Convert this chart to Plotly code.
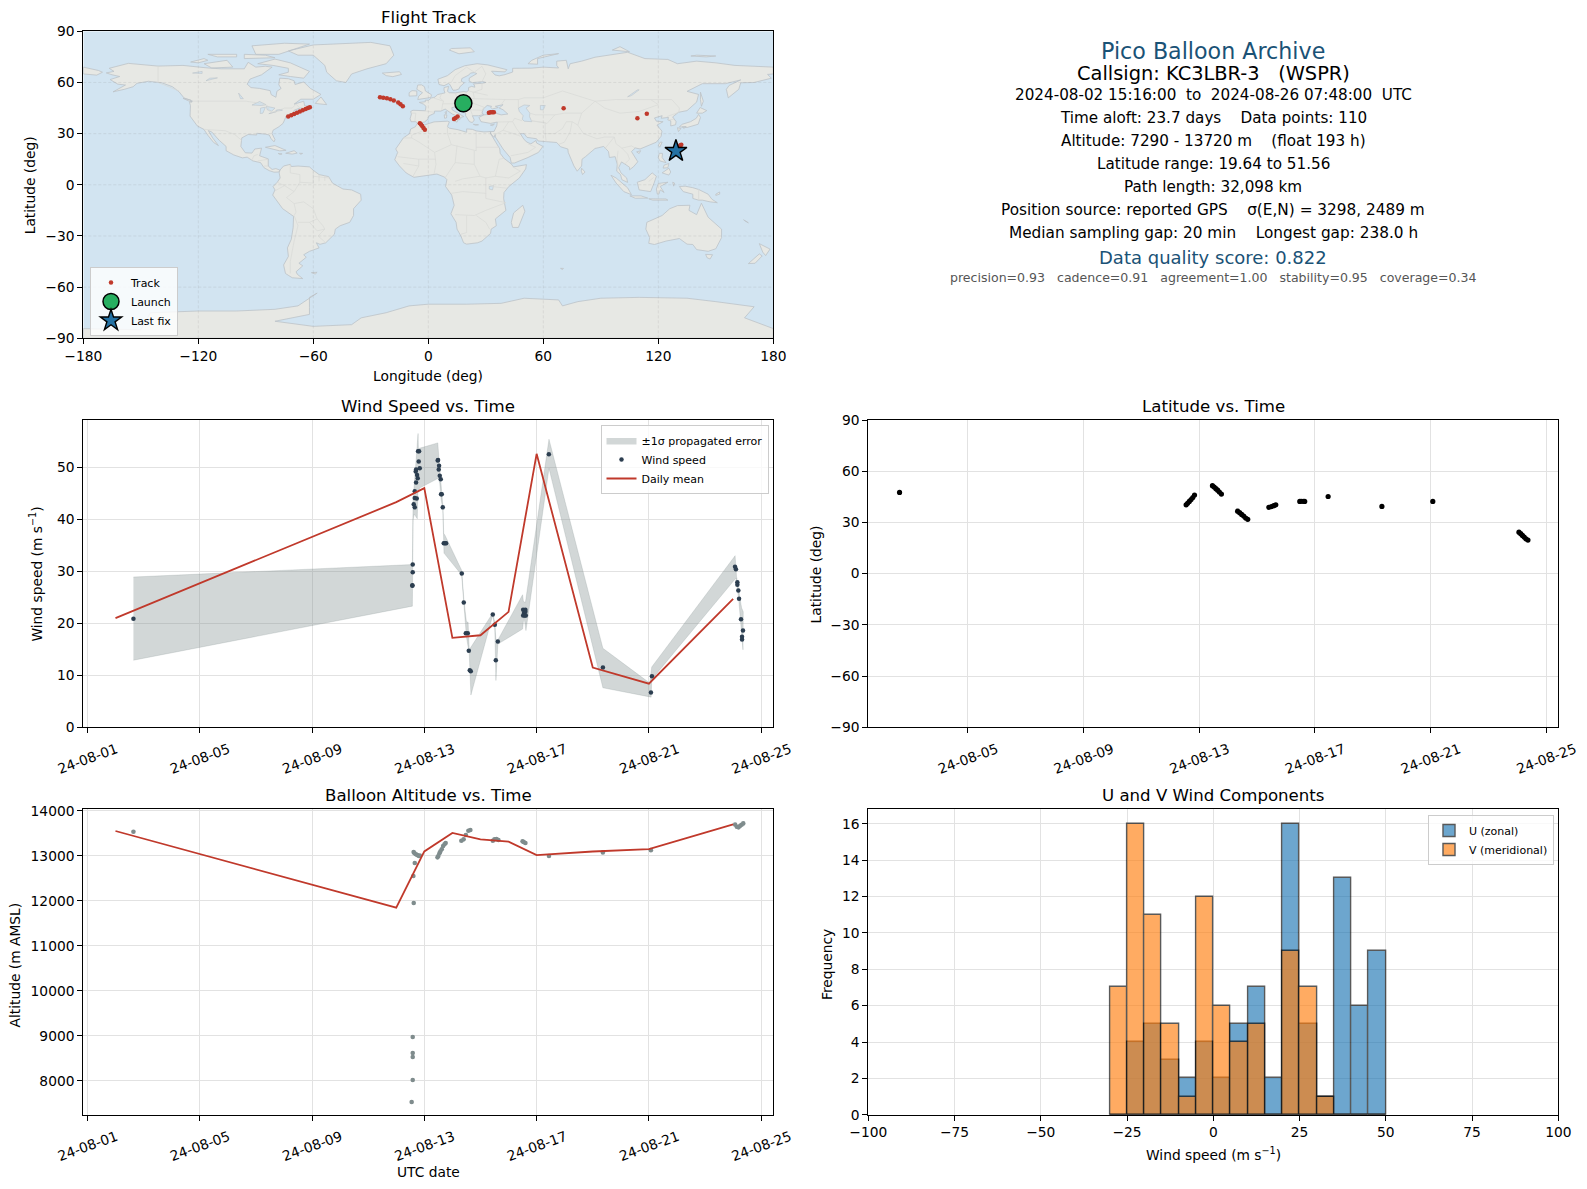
import numpy as np
import pandas as pd
import plotly.graph_objects as go

W, H = 1587, 1189
RED = "#c0392b"
NAVY = "#2c3e50"
GREY = "#7f8c8d"
TITLE_BLUE = "#1a5276"
GRID = "#e2e2e2"
FONT = "DejaVu Sans"

# --- map outlines (lon, lat), read by eye ---
EURASIA = [(-9,37),(-9.5,38.7),(-8.8,41.5),(-9.2,43),(-8,43.7),(-3.5,43.5),(-1.5,43.4),(-1.2,46),(-2.5,47.3),(-4.7,48.3),(-1.5,48.7),(-1.6,49.6),(0.2,49.6),(1.6,50.9),(3.5,51.4),(4.8,52.9),(7,53.5),(8.7,53.9),(8.2,55.5),(8.2,57),(10.6,57.7),(10.3,56.2),(10,54.8),(11,54),(14.2,53.9),(18.5,54.7),(19.8,54.4),(21,55.3),(21,57),(22.6,57.7),(24.3,57.2),(24,58.5),(23.5,59.2),(28,59.5),(30,60),(28.5,60.5),(25,60.2),(22.9,59.9),(21.3,60.8),(21.4,62.6),(25.3,65.2),(24,65.8),(22,65.5),(21.2,64.4),(17.5,62.3),(17.2,60.7),(18.8,59.8),(16.5,57.5),(16,56.2),(14.3,55.5),(12.9,55.4),(11.2,58.9),(10.5,59.4),(8.2,58.1),(5.6,58.8),(5,61.9),(10,64),(14,67.5),(19,69.8),(25.5,71),(31,70.3),(41,67.5),(40,66.2),(35,66.6),(33,66.6),(34.8,64.4),(37,63.9),(40,64.6),(44,66.1),(44,68.3),(54,68.4),(60,69),(68,68.5),(67,70),(67,72.5),(72,73),(73,68),(74,71),(80,72.5),(87,74.8),(104,77.7),(113,74),(125,73.5),(130,71),(140,72.5),(150,71.5),(160,70),(170,69.5),(180,69),(180,65),(177,64.7),(179,62.5),(170,60),(163,59.8),(162,56),(156.5,51),(155.5,56),(157,58.3),(163,61.5),(155,59.3),(143,59.3),(135,54.8),(141,53),(140,48.5),(135,43.5),(130.5,42.5),(127.5,39.8),(129.3,37),(129,35.2),(126.5,34.5),(126.5,37.5),(125,38),(125.3,39.5),(121.5,39),(122,40.5),(118,39.2),(119,37.3),(122.5,37),(119.3,35),(121.9,31.5),(121.5,28.5),(119,25),(114,22.4),(110.5,21),(108,21.6),(106,19.5),(109.3,13.5),(107,10.5),(105,8.8),(105,10.3),(102.5,12.2),(100.8,13.4),(99.3,10),(100.5,7),(103.5,4),(104,1.4),(101,3),(100.3,6),(98.3,8),(98.6,12),(97.5,16.5),(94.5,16),(94,19.5),(91.5,22.5),(89,21.8),(87,21.3),(82,16.5),(80.2,15),(80,11),(77.7,8),(76,11),(73,19),(72.8,21),(69,22.3),(67,24.8),(61.5,25.2),(57.3,25.7),(56.5,27),(51.5,27.8),(50,30),(48,30),(50,26.5),(51.5,25),(53.5,24),(56.2,26),(56.5,24.5),(59.8,22.5),(57.5,19),(52,16),(45,12.8),(43.3,12.7),(42.7,16),(39,21),(35,28),(34.9,29.5),(34.3,27.8),(32.6,29.9),(32.4,31.2),(34.3,31.3),(35.7,34.5),(36,36.8),(32.5,36),(30.5,36.3),(27.5,37),(26.4,39.5),(29,41),(31.5,41.2),(35,42),(38,41),(41.5,41.5),(39,44),(37,45),(39,47),(35,46),(36.5,45.3),(33.5,44.5),(32.5,45.4),(33,46),(30.7,46.5),(28.7,44.5),(28,42),(29,41.2),(26.2,40.5),(23,40.5),(24,38),(23,36.5),(21.5,37),(19.5,40.5),(19.5,42),(15,44.3),(13.8,45.5),(12.3,45.3),(12.4,44),(16,41.8),(18.5,40),(16.8,39.5),(17,38.9),(16,38),(15.8,40),(12.5,41.5),(10.5,43),(8.8,44.4),(6.5,43.2),(3.2,43.2),(3.2,41.9),(0.5,40.5),(-0.3,39),(0,38.7),(-2,36.8),(-5.5,36),(-6.5,37),(-9,37)]
NORTH_AMERICA = [(-168,65.6),(-164,66.5),(-166.5,68.3),(-156.5,71.2),(-141,69.6),(-128,70),(-115,68.5),(-108,68),(-96,68),(-94,71.8),(-90,69),(-85,69.5),(-81.5,69),(-87,64.5),(-93,62),(-94.5,59),(-92.5,57),(-88,56.5),(-82.5,55.2),(-82,52.9),(-79.5,51.3),(-79,54.8),(-76.8,56.5),(-78,58.7),(-77.5,62.5),(-73,62.2),(-70,61),(-69.5,58.8),(-65,60.3),(-61.5,56.5),(-56,53),(-60,50.2),(-66.5,50.2),(-70,47.3),(-65,49),(-64.5,46.3),(-61,46),(-64,44.5),(-66,43.8),(-65.5,45),(-67,45),(-70,43.7),(-70.5,41.8),(-74,40.6),(-75.5,37.5),(-75.8,36),(-78,34),(-81,32),(-81.5,30),(-80,26.5),(-80.5,25.2),(-82,27),(-83,29.2),(-85,29.7),(-89.5,30.2),(-89.5,29.2),(-94,29.5),(-97.3,27.5),(-97.8,22.5),(-95.5,18.8),(-92,18.6),(-90.5,21),(-87,21.5),(-88,17),(-83.5,15.2),(-83.5,11),(-81.5,9),(-79.5,9.5),(-77.4,8.6),(-78,7.5),(-80.5,7.4),(-83,8.3),(-85.7,10),(-87.5,13),(-91.5,14),(-94.5,16.2),(-97,15.8),(-101.5,17.5),(-105.5,20),(-105.5,22.5),(-109,26),(-113,31),(-114.8,31.8),(-112.5,27.5),(-109.5,23),(-112,24.8),(-115,29),(-117.1,32.5),(-120.5,34.5),(-122.5,37.5),(-124.3,40.3),(-124.1,46.5),(-124.6,48.4),(-123,49),(-127.5,51),(-130,54.5),(-133.5,57.5),(-139,59.8),(-146,60.7),(-152,59.5),(-154,57.5),(-158.5,56),(-164.5,54.5),(-158,58.5),(-162,59),(-166,61.7),(-161,63.5),(-165,64.5),(-168,65.6)]
SOUTH_AMERICA = [(-77.4,8.6),(-75.5,11),(-72,12),(-71.5,10.7),(-68,11),(-62,10.5),(-60,8.5),(-57,6),(-52,4.8),(-50,1),(-44.5,-2.5),(-40,-3),(-35.3,-5.5),(-35,-9),(-39,-14),(-39,-18),(-41,-22),(-46,-24),(-48.5,-26),(-49,-29),(-53.5,-34),(-56.5,-34.9),(-58.4,-34),(-57,-37),(-62,-39),(-65,-41),(-63.7,-42.5),(-67.5,-46),(-65.5,-47.5),(-69,-51),(-68.3,-52.5),(-65.5,-55),(-71,-54.5),(-74.5,-52),(-75.5,-47),(-73,-42),(-73.5,-37),(-71.5,-32),(-70.5,-25),(-70.3,-18.5),(-76,-14),(-81.2,-6),(-80,-3),(-81,-1),(-78.8,1.5),(-77.3,4),(-77.8,7),(-77.4,8.6)]
AFRICA = [(-5.8,35.8),(-2,35.1),(3,36.9),(10,37.3),(11,36.9),(10,34.2),(11,33.2),(15.5,32.3),(20,30.8),(20,32.8),(23,32.5),(25,31.6),(29,31),(32.4,31.2),(32.6,29.9),(34,27),(35.7,24),(37.3,21),(37.5,18.5),(39.5,15.5),(43.2,12.3),(44.5,10.5),(51.2,11.8),(50.8,9.3),(47.5,4),(42,-1),(39.5,-4.5),(39.3,-8),(40.5,-15),(35,-20),(35.5,-24),(32.8,-26),(32.5,-28.5),(28,-33),(25.7,-34),(20,-34.8),(18.4,-34),(17,-30),(15,-26),(14.5,-22),(11.8,-17),(13.5,-12),(12.2,-6),(9,-1),(9.7,3),(8.5,4.5),(4.5,6.3),(1,5.8),(-4,5.2),(-7.5,4.4),(-11.5,6.9),(-15,11),(-17.5,14.7),(-16,19),(-17,21),(-13,27.5),(-9.8,30),(-9.2,32.7),(-6.8,34),(-5.8,35.8)]
ANTARCTICA = [(-180,-84.3),(-150,-85),(-145,-75),(-120,-74),(-100,-74),(-80,-73),(-68,-71),(-58,-63.5),(-62,-66),(-62,-72),(-62,-76),(-80,-80),(-60,-83),(-40,-82),(-35,-78),(-22,-75),(-10,-71),(0,-70),(20,-70),(38,-69.5),(50,-66.5),(68,-67.5),(70,-71),(78,-68.5),(90,-66.5),(110,-66),(135,-66.5),(150,-68.5),(170,-71.5),(165,-78),(180,-84.3),(180,-90),(-180,-90),(-180,-84.3)]
AUSTRALIA = [(114,-22),(122,-18),(126,-14),(130,-12.2),(136.5,-12),(136,-15),(140,-17.5),(142.5,-10.8),(146,-19),(153,-26),(153,-31),(150,-37.5),(146,-39),(140,-38),(138,-35),(135,-34.8),(131,-31.5),(124,-33),(118,-35),(115,-34.3),(115.5,-31),(113.5,-26),(114,-22)]
GREENLAND = [(-73,78.5),(-60,82),(-30,83.5),(-20,81.5),(-18,76),(-22,71),(-32,68),(-40,65),(-43,60),(-48,61),(-53,66),(-54,70),(-60,76),(-68,76),(-73,78.5)]
ISLANDS = [
    [(-80,73.7),(-72,71.5),(-62,66.5),(-65,62.5),(-72,63.5),(-78,64.5),(-73,66),(-73,68.3),(-81,70),(-89,71),(-80,73.7)],
    [(-117,71),(-105,73),(-102,69),(-113,68.5),(-117,71)],
    [(-90,76.5),(-78,76.5),(-62,82.5),(-75,83),(-92,81.5),(-90,76.5)],
    [(-124,72),(-117,74),(-115,73),(-120,71.5),(-124,72)],
    [(-96,74),(-80,74.5),(-85,76),(-96,76.5),(-96,74)],
    [(-110,75),(-100,75),(-100,76.5),(-115,76.5),(-110,75)],
    [(-59,47.7),(-56,51.5),(-53,47),(-59,47.7)],
    [(-128,50.7),(-124,49.8),(-123.5,48.4),(-128,50.7)],
    [(-85,22),(-80,23),(-74.2,20.2),(-77.5,19.9),(-85,22)],
    [(-74.4,18.5),(-70,20),(-68.4,18.6),(-71,18),(-74.4,18.5)],
    [(-78.3,18.4),(-76.3,18.1),(-77.5,17.8),(-78.3,18.4)],
    [(-67.2,18.5),(-65.6,18.4),(-66.5,17.9),(-67.2,18.5)],
    [(-61,-51.5),(-58,-51.3),(-59,-52.3),(-61,-51.5)],
    [(49.3,-12),(50.4,-15.5),(47,-25),(44,-25),(43.3,-22),(44.5,-16.5),(49.3,-12)],
    [(-5.5,50),(1.3,51.2),(1.7,52.8),(-1.5,55),(-2,57.5),(-3.5,58.6),(-5.5,58.5),(-6,56),(-3,54),(-5,52),(-5.5,50)],
    [(-10,52),(-6,52.2),(-6,55),(-8.5,55.2),(-10,54),(-10,52)],
    [(-24,65.5),(-22,64),(-18.5,63.4),(-14,64.7),(-15,66.3),(-20,66),(-24,65.5)],
    [(12.5,38),(15.6,38.2),(15,36.7),(12.5,38)],
    [(8.3,41),(9.7,41),(9.5,39.2),(8.5,39),(8.3,41)],
    [(8.7,42.5),(9.5,43),(9.3,41.5),(8.7,42.5)],
    [(23.5,35.5),(26.2,35.2),(24.7,34.9),(23.5,35.5)],
    [(32.4,35),(34.5,35.6),(33.6,34.7),(32.4,35)],
    [(11,79),(16,76.8),(24,78),(22,80.3),(12,79.9),(11,79)],
    [(52,71),(57,70.7),(57,74),(68,76.9),(60,76),(54,73),(52,71)],
    [(96,79),(105,78),(100,81),(96,79)],
    [(137,75.5),(145,75),(150,75.5),(140,76),(137,75.5)],
    [(-180,69),(-172,67),(-170,66),(-173,64.3),(-180,65),(-180,69)],
    [(142,54.3),(143.5,49),(142.5,46),(142,50),(142,54.3)],
    [(131,34),(135,33.6),(140.8,35.5),(142,39.5),(141,41.3),(139.8,39),(136.8,37),(132.5,35.5),(131,34)],
    [(140,42),(141.8,45.3),(145.3,43.5),(143,42),(140,42)],
    [(130,33.5),(131.8,33),(130.5,31.2),(130,33.5)],
    [(132.5,34),(134.5,34.2),(133.5,33),(132.5,34)],
    [(121,25),(122,25),(120.8,22),(120,23.2),(121,25)],
    [(108.7,19.3),(110.8,20),(110,18.3),(108.7,19.3)],
    [(120.5,18.5),(122.2,18.4),(122,16),(124,13),(120.8,14),(120,16),(120.5,18.5)],
    [(122,7),(125.5,9.7),(126.5,7.5),(125.5,5.7),(122,7)],
    [(123,11.5),(125.5,12.5),(125,10),(122.5,9.8),(123,11.5)],
    [(109,1.5),(113,3),(116.8,7),(119,5),(117.8,1),(116,-4),(110,-3),(109,1.5)],
    [(95.3,5.6),(98,4),(104,-1.8),(106,-5.8),(102,-4),(98,1),(95.3,5.6)],
    [(105.2,-6.5),(111,-6.5),(114.5,-7.8),(108,-7.9),(105.2,-6.5)],
    [(115,-8.2),(124,-8.3),(125,-9),(117,-9),(115,-8.2)],
    [(119.5,-5.5),(119,-2.5),(120,0.8),(125,1.5),(121,-1),(123,-4.5),(121,-3),(120.3,-5.5),(119.5,-5.5)],
    [(127.5,1.5),(128.5,1),(128,-0.8),(127.5,1.5)],
    [(131,-1),(134,-0.8),(138,-1.7),(141,-2.7),(146,-5.5),(148,-8.5),(150.8,-10.5),(147,-10),(143,-9),(141,-9),(138,-8),(138,-5.5),(133,-4),(131,-1)],
    [(150,-5.5),(152,-4.2),(152,-5.5),(150,-6.2),(150,-5.5)],
    [(80,9.7),(81.8,7.5),(80.5,6),(79.8,8),(80,9.7)],
    [(144.7,-40.8),(148.3,-41),(147,-43.5),(145.5,-42.8),(144.7,-40.8)],
    [(172.7,-34.5),(178.3,-37.7),(176,-41.5),(174.5,-39.5),(172.7,-34.5)],
    [(172.7,-40.5),(174.2,-41.7),(170.5,-46),(167,-46.2),(172.7,-40.5)],
    [(69,-49),(70.5,-49),(70,-49.7),(69,-49)],
    [(165,-21),(167,-22.3),(164.5,-20.5),(165,-21)],
]
LAKES = [
    [(47,45),(50,46.8),(53,46.5),(51,45),(53,42),(52.8,40),(54,37),(50,37.3),(49,38.5),(49.5,40.5),(47.5,43),(47,45)],
    [(-92,46.8),(-88,48.8),(-84.7,47),(-87,46.5),(-92,46.8)],
    [(-87.7,41.8),(-86.3,42),(-85,45.5),(-87.5,45),(-87.7,41.8)],
    [(-84.5,46),(-80,45),(-81.7,43.2),(-84,44),(-84.5,46)],
    [(-83.2,41.7),(-79,42.8),(-79,43),(-83,42.2),(-83.2,41.7)],
    [(-79.7,43.3),(-76.2,43.6),(-76.3,44.2),(-79,43.9),(-79.7,43.3)],
    [(-123,65.5),(-118,66.5),(-118,65.3),(-123,65.5)],
    [(-116,61),(-110,62.7),(-114,62.5),(-116,61)],
    [(-98,50.5),(-96.5,50.5),(-99,53.8),(-98,50.5)],
    [(104,51.6),(106,52.3),(110,55.7),(109,55.6),(104,51.6)],
    [(58.5,46.5),(61,46.5),(60,44),(58.5,44),(58.5,46.5)],
    [(31.8,-1),(34,-0.5),(33.5,-3),(31.8,-2.5),(31.8,-1)],
]
BORDERS = [
    [(-123,49),(-95,49),(-89,48),(-84,46.5),(-82.5,42.5),(-79,43),(-75,45),(-71,45),(-69,47.3),(-67,45)],
    [(-141,69.6),(-141,60),(-130,55)],
    [(-117,32.5),(-108,31.5),(-106,31.7),(-101,29.5),(-97.3,26)],
    [(-92,14.6),(-91,17),(-89,17.8)],
    [(-89,14),(-83.5,15)], [(-85.7,11),(-83.5,11)],
    [(-51.6,4),(-60,5),(-60,1),(-67,1.5),(-70,-4),(-74,-7.5),(-70,-11),(-65,-10),(-60,-14),(-58,-20),(-55,-24),(-54,-26),(-57.5,-30),(-53.5,-34)],
    [(-70,-18),(-68,-24),(-70,-33),(-72,-45),(-72,-52)],
    [(-72,12),(-72,7),(-67,6),(-67,1.5)],
    [(-78.8,1.5),(-75,-0.5),(-70,-4)], [(-80,-3.5),(-75,-0.5)],
    [(-70,-11),(-69,-16),(-70,-18)], [(-68,-22),(-62,-22),(-58,-20)], [(-62,-22),(-58,-27),(-54,-26)],
    [(-60,8),(-60,5)], [(-57,6),(-57,2)], [(-54,5.5),(-54,2.3)],
    [(-13,27.5),(-8.7,27.5),(-8.7,29),(-1,32.5),(-2,35)],
    [(-8.7,27.5),(-4.8,25),(3.3,19),(12,23.5),(10,30),(10,34)],
    [(12,23.5),(25,20),(25,31.6)], [(25,22),(37,22)],
    [(24,20),(24,12),(27,5),(30,4),(35,5),(42,4),(48,8),(44,10.5)],
    [(35,5),(37,15),(39.5,15.5)], [(3.3,19),(4,12),(3,6.3)],
    [(-16,16.5),(-5,15),(-5,11),(-8,5)], [(-5,15),(4,15)], [(-13,12.5),(-5,11)],
    [(9,4.5),(14,13),(24,12)], [(14,13),(15,23)], [(12,-5),(18,-4),(30,-5),(30,4)],
    [(14,-17.5),(24,-18),(30,-15),(40.5,-10.5)], [(30,-5),(30,-8),(40.5,-10.5)],
    [(20,-18),(20,-28),(17,-29)], [(25,-18),(30,-22),(32,-26)], [(33,-1),(41,-2)], [(14,2),(18,3.5),(27,5)],
    [(-2,43.4),(3,42.5)], [(-8.8,42),(-6.5,42),(-7,37.5)], [(2.5,51),(8,49),(7.5,47.5),(7,44)],
    [(7.5,47.5),(13,47.5),(17,48),(23,48),(29,45.5),(28,43)],
    [(7,53.5),(6,51),(8,49)], [(14,54),(15,51),(24,50.5),(23.5,54)], [(23,54),(28,56),(28,59.5)],
    [(24,50.5),(40,50),(38,47)], [(19,48),(22,44),(23,41)], [(13,47.5),(15,51)], [(21,55),(31,52.5)],
    [(13.8,45.5),(19,46),(22,44),(28,43.7)], [(12,60),(14,64),(20,69)], [(28,69.5),(24,66),(20,69)], [(28,60.5),(30,65),(28,69.5)],
    [(40,50),(47,50),(47,45)], [(47,50),(50,51),(60,51),(70,55),(87,49),(98,50),(108,50),(116,50),(127,50),(131,45),(130.7,42.5)],
    [(87,49),(92,45),(100,42),(110,43),(120,47),(116,50)],
    [(53,42),(56,41),(66,41),(71,42),(80,42),(87,49)], [(66,41),(62,36),(54,37.5)],
    [(49,37.5),(45,39),(44,37),(46,33),(48,30)], [(54,37.5),(61,36.5),(61,30),(61.5,25.2)],
    [(61,30),(66,30),(70,33),(72,37),(75,37)],
    [(68,23.7),(71,25),(74,31),(75,37),(78,35),(81,30),(88,27),(92,28),(97,28),(94,24),(92,21)],
    [(97,28),(98,24),(101,21.5),(106,22.8),(108,21.6)], [(101,21.5),(104,18),(105,15),(102.5,12.2)], [(99,20),(98.5,15),(99,11)], [(80,42),(78,35)],
    [(36,36.8),(42,37),(44,37)], [(35,29.5),(39,32),(47,29),(48,28.5)], [(39,32),(42,37)], [(52,24),(56,22),(52,19),(43,17)],
    [(125,38),(128.3,38.5)], [(124.5,40),(130.7,42.5)], [(115,2),(117.5,4.2)], [(141,-2.7),(141,-9)],
]

# --- flight track ---
TRACK_LON = [18.3,-73.1,-71.5,-70,-68.5,-67,-65.5,-64,-62.8,-61.8,-25.2,-23.5,-21.6,-19.8,-18,-15.7,-14.5,-13.3,-4.4,-3.8,-3.2,-2.5,-1.8,13.4,14.2,15.3,31.6,32.5,33.4,34.2,70.6,109.1,114,132,131.5,131,130.5,130,129.6,129.2]
TRACK_LAT = [47.8,40,40.8,41.5,42.2,43,43.7,44.4,45,45.4,51.3,51,50.7,50.1,49.5,48.2,47.2,46,36.1,35.3,34.5,33.3,32.3,38.6,39.2,40,42.3,42.5,42.5,42.5,44.9,39,41.7,23.5,23.2,22.5,21.8,21,20.3,19.8]
LAUNCH = (18.3, 47.8)
LAST_FIX = (129.2, 19.8)

# --- wind speed, day of August 2024 / m/s ---
WIND_DAY = [2.64,12.575,12.575,12.587,12.587,12.623,12.659,12.659,12.73,12.659,12.706,12.765,12.742,12.694,12.706,12.837,12.801,12.777,12.813,13.478,13.49,13.526,13.514,13.55,13.585,13.597,13.621,13.657,13.692,13.74,13.776,14.334,14.405,14.477,14.548,14.584,14.619,14.655,15.439,15.511,15.546,15.618,16.52,16.55,16.58,16.52,16.6,16.615,16.6,17.436,19.361,21.072,21.108,24.067,24.1,24.15,24.15,24.185,24.21,24.28,24.35,24.316,24.316]
WIND_SPEED = [20.9,27.3,27.2,29.8,31.3,42.9,42.3,44.1,44,45.4,47.1,47.9,48.5,49.2,49.6,49.8,51.1,53.1,53.1,51.3,51.4,50.3,49.6,48.4,47.7,44.8,44.8,42.3,35.4,35.4,35.4,29.6,24,18.1,18.1,14.7,10.96,10.8,21.7,19.7,12.9,16.5,22.6,22,21.5,21.5,22.6,21.5,22.2,52.5,11.5,6.7,9.8,30.9,30.4,27.9,27.4,26.3,24.7,20.8,18.6,17.4,16.9]
BAND_UP_DAY = [2.64,12.575,12.6,12.66,12.7,12.777,12.79,13.48,13.53,13.6,13.66,13.69,13.74,14.33,14.41,14.5,14.56,14.6,15.44,15.51,15.55,15.62,16.5,16.53,16.6,17.44,19.36,21.03,21.1,24.07,24.12,24.3,24.36]
BAND_UP = [28.9,31.3,43.7,47.5,50,56.5,53.6,54.7,51,47.2,42.7,37.3,36.9,30.2,24.5,20.3,20.2,14.9,22,20.1,16.8,16.8,25.5,24.2,24,55.4,15.2,8.5,11.6,33,29,23,22.2]
BAND_LO_DAY = [2.64,12.575,12.6,12.64,12.75,12.77,12.83,13.5,13.55,13.6,13.66,13.7,14.33,14.41,14.5,14.6,14.66,15.44,15.51,15.55,15.62,16.5,16.55,16.62,17.44,19.36,21.08,21.1,24.1,24.2,24.35]
BAND_LO = [12.9,23.3,39.9,41,40.1,45,46,47.9,46.9,43.7,42,33.5,29.3,23.8,17.4,14.2,6.2,21.6,19,9,16,18.9,21.3,18.6,49.8,7.6,5.8,9.2,28.7,24.5,14.9]

# daily means
MEAN_DAY = [2,12,13,14,15,16,17,19,21,24]
MEAN_WIND = [21,43.3,46,17.2,17.7,22.2,52.6,11.5,8.4,24.7]
MEAN_ALT = [13555,11851,13102,13511,13370,13319,13021,13100,13151,13700]

# --- altitude ---
ALT_DAY = [2.64,12.55,12.587,12.587,12.587,12.587,12.623,12.61,12.66,12.62,12.65,12.7,12.75,12.81,12.84,13.47,13.5,13.54,13.57,13.62,13.67,13.72,13.76,14.32,14.4,14.48,14.57,14.64,15.44,15.5,15.57,15.64,16.5,16.54,16.6,17.44,19.36,21.07,24.07,24.13,24.19,24.25,24.3,24.36]
ALT_M = [13540,7533,8022,8533,8622,8978,11955,12555,12844,13090,13060,13040,13020,13000,13010,12970,13000,13060,13100,13150,13220,13260,13290,13340,13370,13466,13562,13577,13340,13370,13377,13355,13325,13310,13288,13000,13080,13130,13697,13650,13636,13670,13695,13724]

# --- latitude ---
LAT_DAY = [2.64,12.55,12.6,12.66,12.72,12.78,12.84,13.46,13.52,13.58,13.64,13.7,13.77,14.33,14.4,14.47,14.54,14.61,14.68,15.41,15.5,15.58,15.65,16.48,16.53,16.6,16.65,17.46,19.32,21.08,24.06,24.12,24.18,24.24,24.3,24.37]
LAT_DEG = [47.6,40.3,41.2,42.3,43.4,44.6,46,51.56,50.7,49.8,48.9,47.8,46.6,36.6,35.7,34.7,33.7,32.6,31.8,38.8,39.3,39.8,40.3,42.3,42.4,42.4,42.3,45.2,39.4,42.3,24.3,23.4,22.4,21.4,20.4,19.64]

# --- histogram counts, 5 m/s bins ---
BIN_LEFT = [-30,-25,-20,-15,-10,-5,0,5,10,15,20,25,30,35,40,45]
U_COUNTS = [0,4,5,3,2,4,2,5,7,2,16,5,1,13,6,9]
V_COUNTS = [7,16,11,5,1,12,6,4,5,0,9,7,1,0,0,0]

INFO_LINES = [
    ("Pico Balloon Archive", 51, 22.2, TITLE_BLUE),
    ("Callsign: KC3LBR-3   (WSPR)", 73, 19.4, "black"),
    ("2024-08-02 15:16:00  to  2024-08-26 07:48:00  UTC", 95, 15.2, "black"),
    ("Time aloft: 23.7 days    Data points: 110", 118, 15.2, "black"),
    ("Altitude: 7290 - 13720 m    (float 193 h)", 141, 15.2, "black"),
    ("Latitude range: 19.64 to 51.56", 164, 15.2, "black"),
    ("Path length: 32,098 km", 187, 15.2, "black"),
    ("Position source: reported GPS    σ(E,N) = 3298, 2489 m", 210, 15.3, "black"),
    ("Median sampling gap: 20 min    Longest gap: 238.0 h", 233, 15.3, "black"),
    ("Data quality score: 0.822", 257.5, 18, TITLE_BLUE),
    ("precision=0.93   cadence=0.91   agreement=1.00   stability=0.95   coverage=0.34", 278, 12.55, "#555555"),
]


def to_dates(days):
    return pd.Timestamp("2024-08-01") + pd.to_timedelta(np.array(days, dtype=float) - 1, unit="D")


def join_paths(paths):
    xs, ys = [], []
    for path in paths:
        xs += [p[0] for p in path] + [None]
        ys += [p[1] for p in path] + [None]
    return xs, ys


def px_x(px):
    return px / W


def px_y(py):
    return 1 - py / H


# axes boxes in pixels: left, right, top, bottom
BOXES = {
    "": (83.3, 773.3, 31.3, 338.3),
    "2": (83.3, 773.3, 420, 727.3),
    "3": (868.3, 1558.3, 420, 727.3),
    "4": (83.3, 773.3, 809, 1114.7),
    "5": (868.3, 1558.3, 809, 1114.7),
}

fig = go.Figure()

# 1. MAP
land_x, land_y = join_paths([EURASIA, NORTH_AMERICA, SOUTH_AMERICA, AFRICA, ANTARCTICA, AUSTRALIA, GREENLAND] + ISLANDS)
fig.add_trace(go.Scatter(x=land_x, y=land_y, mode="lines", fill="toself", fillcolor="#e7e8e4",
                         line=dict(color="#bcc3c8", width=0.8), hoverinfo="skip", showlegend=False))
lake_x, lake_y = join_paths(LAKES)
fig.add_trace(go.Scatter(x=lake_x, y=lake_y, mode="lines", fill="toself", fillcolor="#d2e4f1",
                         line=dict(color="#bcc3c8", width=0.6), hoverinfo="skip", showlegend=False))
border_x, border_y = join_paths(BORDERS)
fig.add_trace(go.Scatter(x=border_x, y=border_y, mode="lines",
                         line=dict(color="#d9dad7", width=0.7), hoverinfo="skip", showlegend=False))
fig.add_trace(go.Scatter(x=TRACK_LON, y=TRACK_LAT, mode="markers", name="Track",
                         marker=dict(color=RED, size=4.5), legend="legend"))
fig.add_trace(go.Scatter(x=[LAUNCH[0]], y=[LAUNCH[1]], mode="markers", name="Launch",
                         marker=dict(color="#27ae60", size=17, line=dict(color="black", width=1.5)), legend="legend"))
fig.add_trace(go.Scatter(x=[LAST_FIX[0]], y=[LAST_FIX[1]], mode="markers", name="Last fix",
                         marker=dict(color="#2471a3", size=16.5, symbol="star", line=dict(color="black", width=1.4)), legend="legend"))

# 2. WIND SPEED
band_x = list(to_dates(BAND_UP_DAY)) + list(to_dates(BAND_LO_DAY))[::-1]
band_y = BAND_UP + BAND_LO[::-1]
fig.add_trace(go.Scatter(x=band_x, y=band_y, mode="lines", fill="toself", name="±1σ propagated error",
                         fillcolor="rgba(127,140,141,0.35)", line=dict(color="rgba(127,140,141,0.35)", width=0.6),
                         xaxis="x2", yaxis="y2", legend="legend2"))
fig.add_trace(go.Scatter(x=to_dates(WIND_DAY), y=WIND_SPEED, mode="markers", name="Wind speed",
                         marker=dict(color=NAVY, size=4.5), xaxis="x2", yaxis="y2", legend="legend2"))
fig.add_trace(go.Scatter(x=to_dates(MEAN_DAY), y=MEAN_WIND, mode="lines", name="Daily mean",
                         line=dict(color=RED, width=1.8), xaxis="x2", yaxis="y2", legend="legend2"))

# 3. LATITUDE
fig.add_trace(go.Scatter(x=to_dates(LAT_DAY), y=LAT_DEG, mode="markers", marker=dict(color="black", size=5.2),
                         xaxis="x3", yaxis="y3", showlegend=False))

# 4. ALTITUDE
fig.add_trace(go.Scatter(x=to_dates(ALT_DAY), y=ALT_M, mode="markers", marker=dict(color=GREY, size=4.6),
                         xaxis="x4", yaxis="y4", showlegend=False))
fig.add_trace(go.Scatter(x=to_dates(MEAN_DAY), y=MEAN_ALT, mode="lines", line=dict(color=RED, width=1.8),
                         xaxis="x4", yaxis="y4", showlegend=False))

# 5. HISTOGRAM
centers = [b + 2.5 for b in BIN_LEFT]
fig.add_trace(go.Bar(x=centers, y=U_COUNTS, width=5, name="U (zonal)", opacity=0.65,
                     marker=dict(color="#1f77b4", line=dict(color="black", width=1.4)),
                     xaxis="x5", yaxis="y5", legend="legend3"))
fig.add_trace(go.Bar(x=centers, y=V_COUNTS, width=5, name="V (meridional)", opacity=0.65,
                     marker=dict(color="#ff7f0e", line=dict(color="black", width=1.4)),
                     xaxis="x5", yaxis="y5", legend="legend3"))

AXIS = dict(showline=True, linecolor="black", linewidth=1.1, mirror=True, ticks="outside", ticklen=5,
            tickwidth=1.1, tickcolor="black", gridcolor=GRID, gridwidth=1, zeroline=False, automargin=False,
            tickfont=dict(size=13.8, color="black"))
layout_axes = {}
for key, (x0, x1, y0, y1) in BOXES.items():
    layout_axes["xaxis" + key] = dict(AXIS, domain=[px_x(x0), px_x(x1)], anchor="y" + key)
    layout_axes["yaxis" + key] = dict(AXIS, domain=[px_y(y1), px_y(y0)], anchor="x" + key)

layout_axes["xaxis"].update(range=[-180, 180], tick0=-180, dtick=60, showgrid=False)
layout_axes["yaxis"].update(range=[-90, 90], tick0=-90, dtick=30, showgrid=False)

date_axis = dict(type="date", tick0="2024-08-01", dtick=4 * 86400000, tickformat="%y-%m-%d", tickangle=-20,
                 ticklabelshift=29, ticklabelstandoff=3)
wide_range = list(to_dates([0.854, 25.43]))
layout_axes["xaxis2"].update(date_axis, range=wide_range)
layout_axes["yaxis2"].update(range=[0, 59.1], dtick=10)
layout_axes["xaxis3"].update(date_axis, range=list(to_dates([1.559, 25.42])))
layout_axes["yaxis3"].update(range=[-90, 90], tick0=-90, dtick=30)
layout_axes["xaxis4"].update(date_axis, range=wide_range)
layout_axes["yaxis4"].update(range=[7250, 14044], tick0=8000, dtick=1000, tickformat="d")
layout_axes["xaxis5"].update(range=[-100, 100], tick0=-100, dtick=25)
layout_axes["yaxis5"].update(range=[0, 16.82], dtick=2)

annotations = []
SUBPLOT_TITLES = {"": "Flight Track", "2": "Wind Speed vs. Time", "3": "Latitude vs. Time",
                  "4": "Balloon Altitude vs. Time", "5": "U and V Wind Components"}
for key, text in SUBPLOT_TITLES.items():
    x0, x1, y0, y1 = BOXES[key]
    annotations.append(dict(text=text, xref="paper", yref="paper", x=px_x((x0 + x1) / 2), y=px_y(y0 - 2),
                            xanchor="center", yanchor="bottom", showarrow=False, font=dict(size=16.6, color="black")))
for text, py, size, color in INFO_LINES:
    annotations.append(dict(text=text, xref="paper", yref="paper", x=px_x(1213.3), y=px_y(py), xanchor="center",
                            yanchor="middle", showarrow=False, font=dict(size=size, color=color)))

# axis titles: text, centre x, centre y, rotation
AXIS_TITLES = [
    ("Longitude (deg)", 428.3, 375.6, 0),
    ("Latitude (deg)", 29.5, 185.8, -90),
    ("Wind speed (m s<sup>−1</sup>)", 36, 574.6, -90),
    ("Latitude (deg)", 815.5, 575, -90),
    ("Altitude (m AMSL)", 14.5, 965, -90),
    ("Frequency", 827, 965, -90),
    ("UTC date", 428.3, 1171.5, 0),
    ("Wind speed (m s<sup>−1</sup>)", 1213.3, 1154, 0),
]
for text, cx, cy, angle in AXIS_TITLES:
    annotations.append(dict(text=text, xref="paper", yref="paper", x=px_x(cx), y=px_y(cy), xanchor="center",
                            yanchor="middle", textangle=angle, showarrow=False, font=dict(size=13.8, color="black")))

# map gridlines sit above the land
shapes = [dict(type="rect", xref="x", yref="y", x0=-180, x1=180, y0=-90, y1=90, layer="below",
               fillcolor="#d2e4f1", line=dict(width=0))]
for lon in range(-120, 180, 60):
    shapes.append(dict(type="line", xref="x", yref="y", x0=lon, x1=lon, y0=-90, y1=90, layer="above",
                       line=dict(color="rgba(130,130,130,0.22)", width=0.7, dash="3px,2px")))
for lat in range(-60, 90, 30):
    shapes.append(dict(type="line", xref="x", yref="y", x0=-180, x1=180, y0=lat, y1=lat, layer="above",
                       line=dict(color="rgba(130,130,130,0.22)", width=0.7, dash="3px,2px")))

LEGEND = dict(font=dict(size=11, color="black"), bgcolor="rgba(255,255,255,0.8)", bordercolor="#cccccc",
              borderwidth=1, tracegroupgap=0, itemclick=False)

fig.update_layout(
    width=W, height=H, autosize=False, margin=dict(l=0, r=0, t=0, b=0),
    font=dict(family=FONT, color="black"), paper_bgcolor="white", plot_bgcolor="white",
    barmode="overlay", bargap=0, annotations=annotations, shapes=shapes,
    legend=dict(LEGEND, x=px_x(90), y=px_y(336), xanchor="left", yanchor="bottom"),
    legend2=dict(LEGEND, x=px_x(768.5), y=px_y(425), xanchor="right", yanchor="top"),
    legend3=dict(LEGEND, x=px_x(1554), y=px_y(815), xanchor="right", yanchor="top"),
    **layout_axes,
)

fig.write_html("out.html", post_script="document.body.style.margin='0';", config={"displayModeBar": False})
